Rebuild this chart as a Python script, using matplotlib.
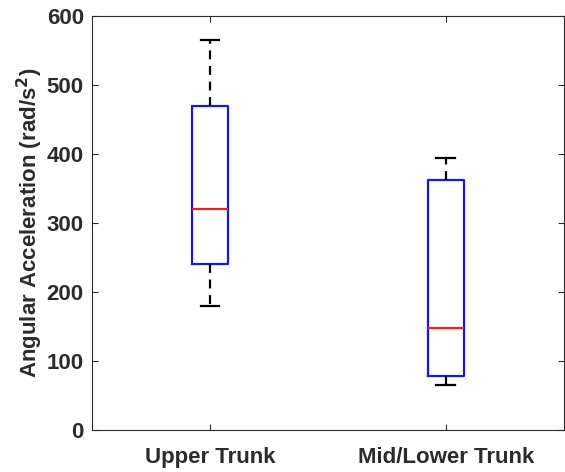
import matplotlib.pyplot as plt

plt.rcParams['font.family'] = ['Liberation Sans', 'DejaVu Sans']

groups = ['Upper Trunk', 'Mid/Lower Trunk']
whislo = [180, 65]
q1 = [240, 78]
med = [320, 148]
q3 = [470, 362]
whishi = [565, 394]

stats = [dict(label=g, whislo=lo, q1=a, med=m, q3=b, whishi=hi, fliers=[])
         for g, lo, a, m, b, hi in zip(groups, whislo, q1, med, q3, whishi)]

fig = plt.figure(figsize=(5.65, 4.72), dpi=100)
ax = fig.add_axes([0.163, 0.089, 0.835, 0.877])

ax.bxp(stats, positions=[1, 2], widths=0.155, showfliers=False,
       boxprops=dict(color='#1a1ad6', linewidth=1.6),
       medianprops=dict(color='#e8231e', linewidth=1.6),
       whiskerprops=dict(color='black', linestyle=(0, (4, 3)), linewidth=1.6),
       capprops=dict(color='black', linewidth=1.6),
       capwidths=0.08)

ax.set_xlim(0.5, 2.5)
ax.set_ylim(0, 600)
ax.set_yticks(range(0, 601, 100))
ax.set_xticks([1, 2])
ax.set_xticklabels(groups, fontsize=16, fontweight='bold', color='#2b2b2b')
for lbl in ax.get_yticklabels():
    lbl.set_fontsize(16)
    lbl.set_fontweight('bold')
    lbl.set_color('#2b2b2b')
ax.tick_params(direction='in', top=True, right=True, length=4, width=0.8,
               colors='#2b2b2b')
ax.tick_params(axis='y', pad=6)
ax.tick_params(axis='x', pad=12)
for s in ax.spines.values():
    s.set_color('#2b2b2b')
    s.set_linewidth(0.8)
ax.set_ylabel('Angular Acceleration (rad/s$^\\mathbf{2}$)', fontsize=16,
              fontweight='bold', color='#2b2b2b', labelpad=1)

fig.savefig('out.png', dpi=100)
